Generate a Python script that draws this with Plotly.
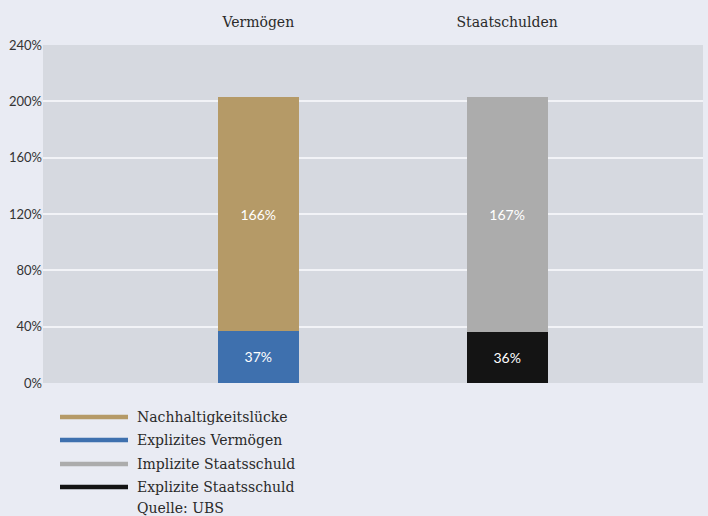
import plotly.graph_objects as go

categories = ["Vermögen", "Staatschulden"]
lower_values = [37, 36]          # Explizites Vermögen / Explizite Staatsschuld
upper_values = [166, 167]        # Nachhaltigkeitslücke / Implizite Staatsschuld
lower_colors = ["#3e70ae", "#141414"]
upper_colors = ["#b59a67", "#acacac"]
y_ticks = [0, 40, 80, 120, 160, 200, 240]
y_tick_labels = ["0%", "40%", "80%", "120%", "160%", "200%", "240%"]
legend_names = ["Nachhaltigkeitslücke", "Explizites Vermögen", "Implizite Staatsschuld", "Explizite Staatsschuld"]
legend_colors = ["#b59a67", "#3e70ae", "#acacac", "#141414"]
source_text = "Quelle: UBS"

W, H = 708, 516
ML, MR, MT, MB = 43, 5, 45, 133
PW, PH = W - ML - MR, H - MT - MB

fig = go.Figure()
fig.add_trace(go.Bar(
    x=categories, y=lower_values, marker=dict(color=lower_colors, line=dict(width=0)),
    text=[f"{v}%" for v in lower_values], textposition="inside", insidetextanchor="middle",
    textfont=dict(color="white", size=14, family="Lato"), width=0.325, showlegend=False,
))
fig.add_trace(go.Bar(
    x=categories, y=upper_values, marker=dict(color=upper_colors, line=dict(width=0)),
    text=[f"{v}%" for v in upper_values], textposition="inside", insidetextanchor="middle",
    textfont=dict(color="white", size=14, family="Lato"), width=0.325, showlegend=False,
))

def py(pix):
    return (MT + PH - pix) / PH

def px(pix):
    return (pix - ML) / PW

shapes = []
annotations = []
legend_y = [417, 440, 464, 487]
for name, col, yy in zip(legend_names, legend_colors, legend_y):
    shapes.append(dict(type="line", xref="paper", yref="paper", x0=px(60), x1=px(128),
                       y0=py(yy), y1=py(yy), line=dict(color=col, width=4.5)))
    annotations.append(dict(xref="paper", yref="paper", x=px(135), y=py(yy), text=name,
                            showarrow=False, xanchor="left", yanchor="middle",
                            font=dict(family="DejaVu Serif", size=14, color="#2a2a2a")))
annotations.append(dict(xref="paper", yref="paper", x=px(135), y=py(508), text=source_text,
                        showarrow=False, xanchor="left", yanchor="middle",
                        font=dict(family="DejaVu Serif", size=14, color="#2a2a2a")))

fig.update_layout(
    width=W, height=H, barmode="stack",
    margin=dict(l=ML, r=MR, t=MT, b=MB),
    paper_bgcolor="#e9ebf3", plot_bgcolor="#d6d9e0",
    xaxis=dict(side="top", range=[-0.865, 1.787], showgrid=False, zeroline=False,
               showline=False, ticks="", ticklabelstandoff=14,
               tickfont=dict(family="DejaVu Serif", size=14, color="#2a2a2a")),
    yaxis=dict(range=[0, 240], tickvals=y_ticks, ticktext=y_tick_labels, showgrid=True,
               gridcolor="#f2f3f7", gridwidth=1.5, zeroline=False, showline=False, ticks="",
               tickfont=dict(family="Lato", size=13, color="#333333")),
    shapes=shapes, annotations=annotations, font=dict(family="Lato"),
)
fig.write_html("out.html", config={"displayModeBar": False},
               post_script="document.body.style.margin='0';")
